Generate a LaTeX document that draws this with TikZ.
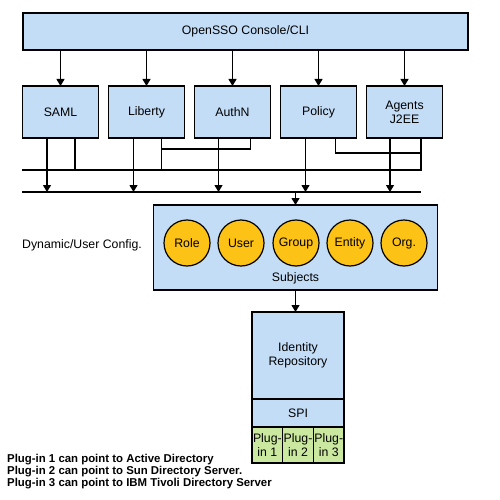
\documentclass[tikz,border=0pt]{standalone}
\usepackage{fontspec}
\setmainfont{Liberation Sans}
\usetikzlibrary{
	arrows.meta,
	positioning
}
\definecolor{boxblue}{RGB}{196,221,247}
\definecolor{subjyellow}{RGB}{253,194,22}
\definecolor{plugreen}{RGB}{202,232,160}

\begin{document}
\begin{tikzpicture}[
	x=1pt, y=-1pt,
	every node/.style={font=\fontsize{12.3}{14}\selectfont},
	bluebox/.style={
		rectangle, draw, line width=1.4pt, fill=boxblue,
		align=center, inner sep=1pt, outer sep=0pt
	},
	module/.style={
		bluebox, minimum width=76pt, minimum height=52pt
	},
	subject/.style={
		circle, draw, line width=1.2pt, fill=subjyellow,
		minimum size=46pt, inner sep=0pt
	},
	plugin/.style={
		bluebox, fill=plugreen, minimum width=30.67pt, minimum height=36pt,
		font=\fontsize{12.3}{14}\selectfont
	},
	plain/.style={inner sep=0pt, align=left},
	wire/.style={line width=1.1pt, black},
	arrow/.style={wire, -{Triangle[width=8pt,length=7pt]}}
	]
	\useasboundingbox (0,0) rectangle (500,500);
	
	% console
	\node[bluebox, minimum width=445pt, minimum height=37pt] (console) at (245.5,31.5) {OpenSSO Console/CLI};
	
	% modules
	\node[module] (saml) at (60.5,112) {SAML};
	\node[module, right=10pt of saml] (liberty) {Liberty};
	\node[module, right=10pt of liberty] (authn) {AuthN};
	\node[module, right=10pt of authn] (policy) {Policy};
	\node[module, right=10pt of policy] (agents) {Agents\\J2EE};
	
	% console to modules
	\foreach \m in {saml,liberty,authn,policy,agents}
		\draw[arrow] (\m.north |- console.south) -- (\m.north);
	
	% bus lines
	\coordinate (busA west) at (22,170);
	\coordinate (busB west) at (22,192);
	\coordinate (busB east) at (421,192);
	
	% subjects
	\node[bluebox, minimum width=284pt, minimum height=85pt] (subjects) at (295.5,247.5) {};
	\foreach \id/\txt/\x in {role/Role/187, user/User/241, group/Group/296, entity/Entity/350, org/Org./404}
		\node[subject] (\id) at (\x,243) {\txt};
	\node[plain] (subjlabel) at (295.5,278) {Subjects};
	
	% label left
	\node[plain, anchor=west] (dynlabel) at (22,245) {Dynamic/User Config.};
	
	% identity repository
	\node[bluebox, minimum width=92pt, minimum height=87pt] (idrepo) at (298,355.5) {Identity\\Repository};
	\node[bluebox, minimum width=92pt, minimum height=28pt, below=0pt of idrepo] (spi) {SPI};
	\node[plugin, anchor=north west] (plugA) at (spi.south west) {Plug-\\in 1};
	\node[plugin, right=0pt of plugA] (plugB) {Plug-\\in 2};
	\node[plugin, right=0pt of plugB] (plugC) {Plug-\\in 3};
	
	% modules to bus lines
	\draw[arrow] ([xshift=-13.5pt]saml.south) -- ([xshift=-13.5pt]saml.south |- busB west);
	\draw[wire] ([xshift=14.5pt]saml.south) -- ([xshift=14.5pt]saml.south |- busA west);
	\draw[arrow] ([xshift=-13pt]liberty.south) -- ([xshift=-13pt]liberty.south |- busB west);
	\draw[wire] ([xshift=15pt]liberty.south) -- ([xshift=15pt]liberty.south |- busA west);
	\draw[wire] ([xshift=18pt]authn.south) -- ++(0,11) -| ([xshift=15pt]liberty.south);
	\draw[arrow] ([xshift=-14pt]authn.south) -- ([xshift=-14pt]authn.south |- busB west);
	\draw[arrow] ([xshift=-13pt]policy.south) -- ([xshift=-13pt]policy.south |- busB west);
	\draw[wire] ([xshift=17pt]policy.south) -- ++(0,15) -| ([xshift=16.5pt]agents.south);
	\draw[arrow] ([xshift=-14.5pt]agents.south) -- ([xshift=-14.5pt]agents.south |- busB west);
	\draw[wire] ([xshift=16.5pt]agents.south) |- (busA west);
	\draw[wire] (busB west) -- (busB east);
	
	% bus to subjects to repository
	\draw[arrow] (subjects.north |- busB west) -- (subjects.north);
	\draw[arrow] (subjects.south) -- (subjects.south |- idrepo.north);
	
	% notes
	\node[plain, anchor=north west, font=\bfseries\fontsize{11.4}{11.6}\selectfont] (notes) at (7,454.5) {Plug-in 1 can point to Active Directory\\Plug-in 2 can point to Sun Directory Server.\\Plug-in 3 can point to IBM Tivoli Directory Server};
\end{tikzpicture}
\end{document}
